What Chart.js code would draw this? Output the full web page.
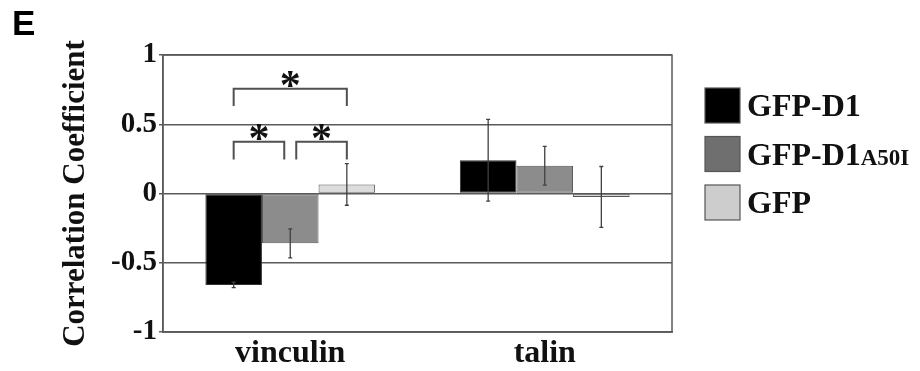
<!DOCTYPE html>
<html>
<head>
<meta charset="utf-8">
<script src="https://cdn.jsdelivr.net/npm/chart.js@4"></script>
<style>
  html, body { margin: 0; padding: 0; background: #fff; }
  #wrap { width: 920px; height: 371px; }
</style>
</head>
<body>
<div id="wrap"><canvas id="chart" width="920" height="371"></canvas></div>
<script>
// values
const categories = ['vinculin', 'talin'];
const seriesNames = ['GFP-D1', 'GFP-D1A50I', 'GFP'];
const d1Mean = [-0.66, 0.24];
const d1Err = [0.02, 0.295];
const a50iMean = [-0.36, 0.20];
const a50iErr = [0.105, 0.14];
const gfpMean = [0.065, -0.025];
const gfpErr = [0.15, 0.22];
const yTicks = [-1, -0.5, 0, 0.5, 1];
const yTickLabels = ['-1', '-0.5', '0', '0.5', '1'];

// significance brackets on vinculin: [fromSeries, toSeries, y, legDepth]
const brackets = [
    [0, 2, 0.756, 0.125],
    [0, 1, 0.373, 0.128],
    [1, 2, 0.373, 0.128]
];

const serif = "'Liberation Serif', 'Times New Roman', serif";
const lineGray = '#5a5a5a';

const errorBars = {
    id: 'errorBars',
    afterDatasetsDraw(chart) {
        const ctx = chart.ctx;
        const y = chart.scales.y;
        ctx.save();
        ctx.strokeStyle = '#404040';
        ctx.lineWidth = 1.3;
        chart.data.datasets.forEach((ds, di) => {
            const meta = chart.getDatasetMeta(di);
            meta.data.forEach((bar, i) => {
                const v = ds.data[i], e = ds.errors[i];
                const top = y.getPixelForValue(v + e);
                const bot = y.getPixelForValue(v - e);
                ctx.beginPath();
                ctx.moveTo(bar.x, top); ctx.lineTo(bar.x, bot);
                ctx.moveTo(bar.x - 2, top); ctx.lineTo(bar.x + 2, top);
                ctx.moveTo(bar.x - 2, bot); ctx.lineTo(bar.x + 2, bot);
                ctx.stroke();
            });
        });
        ctx.restore();
    }
};

const sigMarks = {
    id: 'sigMarks',
    afterDatasetsDraw(chart) {
        const ctx = chart.ctx;
        const y = chart.scales.y;
        ctx.save();
        ctx.strokeStyle = '#505050';
        ctx.lineWidth = 2;
        ctx.fillStyle = '#111';
        ctx.font = 'bold 42px ' + serif;
        ctx.textAlign = 'center';
        ctx.textBaseline = 'alphabetic';
        brackets.forEach(([a, b, yv, leg]) => {
            let xa = chart.getDatasetMeta(a).data[0].x;
            let xb = chart.getDatasetMeta(b).data[0].x;
            // keep the two lower brackets apart over the middle bar
            if (a === 1) xa += 6;
            if (b === 1) xb -= 6;
            const py = y.getPixelForValue(yv);
            const pl = y.getPixelForValue(yv - leg);
            ctx.beginPath();
            ctx.moveTo(xa, pl); ctx.lineTo(xa, py);
            ctx.lineTo(xb, py); ctx.lineTo(xb, pl);
            ctx.stroke();
            ctx.fillText('*', (xa + xb) / 2, py + 10);
        });
        ctx.restore();
    }
};

const frame = {
    id: 'frame',
    afterDraw(chart) {
        const {ctx, chartArea: a} = chart;
        ctx.save();
        ctx.strokeStyle = lineGray;
        ctx.lineWidth = 1.5;
        ctx.strokeRect(a.left, a.top, a.right - a.left, a.bottom - a.top);
        // panel letter
        ctx.fillStyle = '#000';
        ctx.font = "bold 35px 'Liberation Sans', Arial, sans-serif";
        ctx.textBaseline = 'alphabetic';
        ctx.fillText('E', 12, 35);
        ctx.restore();
    }
};

const sideLegend = {
    id: 'sideLegend',
    afterDraw(chart) {
        const {ctx, chartArea: a} = chart;
        const fills = ['#000000', '#6f6f6f', '#cdcdcd'];
        ctx.save();
        chart.data.datasets.forEach((ds, i) => {
            const bx = a.right + 33;
            const by = a.top + 33 + i * 48.5;
            ctx.fillStyle = fills[i];
            ctx.fillRect(bx, by, 35, 35);
            ctx.strokeStyle = '#555';
            ctx.lineWidth = 1.2;
            ctx.strokeRect(bx, by, 35, 35);
            const base = by + 17.5 + 10.5;
            ctx.fillStyle = '#111';
            ctx.textBaseline = 'alphabetic';
            ctx.textAlign = 'left';
            const label = ds.label;
            const m = label.match(/^(GFP-D1)(A50I)$/);
            ctx.font = 'bold 32px ' + serif;
            if (m) {
                ctx.fillText(m[1], bx + 42, base);
                const w = ctx.measureText(m[1]).width;
                ctx.font = 'bold 23px ' + serif;
                ctx.fillText(m[2], bx + 42 + w, base);
            } else {
                ctx.fillText(label, bx + 42, base);
            }
        });
        ctx.restore();
    }
};

new Chart(document.getElementById('chart'), {
    type: 'bar',
    data: {
        labels: categories,
        datasets: [
            { label: seriesNames[0], data: d1Mean, errors: d1Err, backgroundColor: '#000000', borderColor: '#333' },
            { label: seriesNames[1], data: a50iMean, errors: a50iErr, backgroundColor: '#8c8c8c', borderColor: '#555' },
            { label: seriesNames[2], data: gfpMean, errors: gfpErr, backgroundColor: '#dcdcdc', borderColor: '#555' }
        ]
    },
    options: {
        responsive: false,
        animation: false,
        devicePixelRatio: 1,
        layout: { padding: { top: 55, right: 248, left: 0, bottom: 0 } },
        datasets: {
            bar: { barPercentage: 1, categoryPercentage: 0.667, borderWidth: 1, borderSkipped: false }
        },
        plugins: {
            legend: { display: false },
            tooltip: { enabled: false }
        },
        scales: {
            x: {
                grid: { display: false, drawTicks: false },
                border: { display: true, color: lineGray, width: 1.5 },
                ticks: {
                    color: '#111',
                    padding: 6,
                    font: { family: serif, size: 32, weight: 'bold', lineHeight: 1 }
                },
                afterFit(scale) { scale.height = 39; }
            },
            y: {
                min: -1,
                max: 1,
                afterBuildTicks(scale) { scale.ticks = yTicks.map(v => ({ value: v })); },
                grid: { color: lineGray, lineWidth: 1.5, tickLength: 4 },
                border: { display: true, color: lineGray, width: 1.5 },
                ticks: {
                    color: '#111',
                    padding: 2,
                    font: { family: serif, size: 29, weight: 'bold' },
                    callback: (v) => yTickLabels[yTicks.indexOf(v)]
                },
                title: {
                    display: true,
                    text: 'Correlation Coefficient',
                    color: '#111',
                    padding: { top: 57, bottom: 0 },
                    font: { family: serif, size: 31, weight: 'bold' }
                },
                afterFit(scale) { scale.width = 163; }
            }
        }
    },
    plugins: [errorBars, sigMarks, frame, sideLegend]
});
</script>
</body>
</html>
